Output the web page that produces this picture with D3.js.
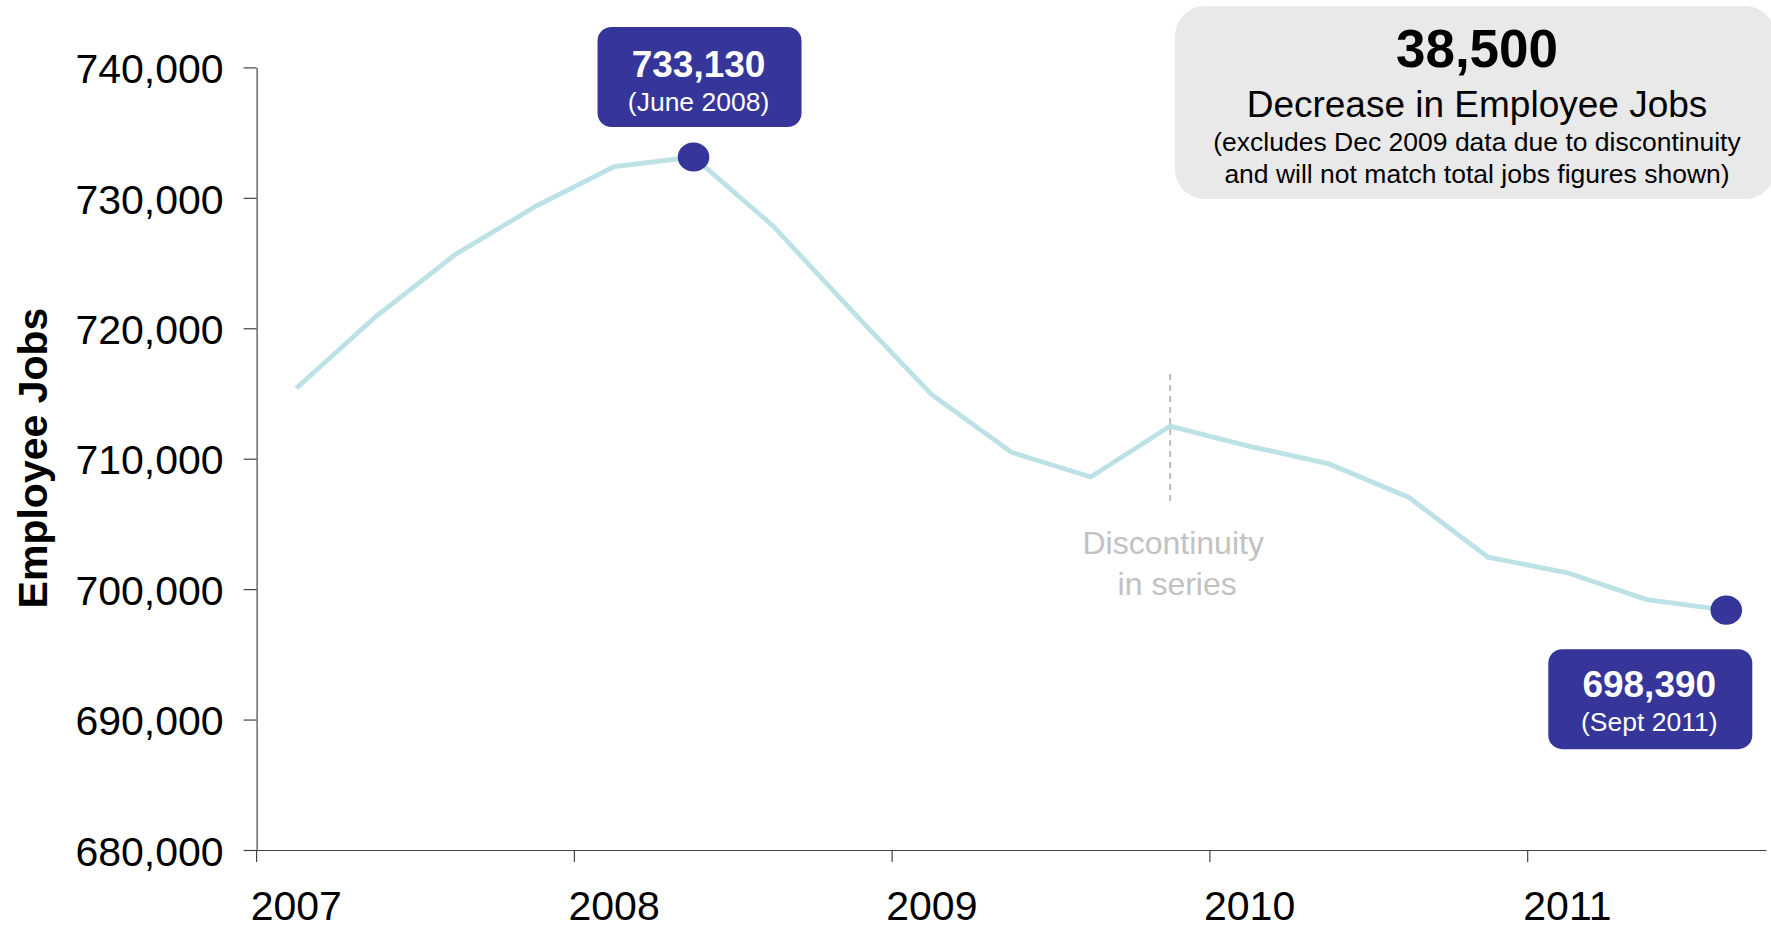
<!DOCTYPE html>
<html>
<head>
<meta charset="utf-8">
<script src="https://cdn.jsdelivr.net/npm/d3@7"></script>
<style>
  html, body { margin: 0; padding: 0; background: #fff; }
  svg { display: block; font-family: "Liberation Sans", Arial, Helvetica, sans-serif; }
</style>
</head>
<body>
<svg id="chart" width="1771" height="930"></svg>
<script>
// ---- Data ----
const quarters = ["Mar 2007","Jun 2007","Sep 2007","Dec 2007",
                  "Mar 2008","Jun 2008","Sep 2008","Dec 2008",
                  "Mar 2009","Jun 2009","Sep 2009","Dec 2009",
                  "Mar 2010","Jun 2010","Sep 2010","Dec 2010",
                  "Mar 2011","Jun 2011","Sep 2011"];
const jobs = [715400, 720900, 725650, 729300,
              732400, 733130, 727850, 721300,
              714900, 710500, 708600, 712500,
              710950, 709600, 707050, 702450,
              701250, 699200, 698390];
const yTicks = [680000, 690000, 700000, 710000, 720000, 730000, 740000];
const yearTicks = ["Mar 2007","Mar 2008","Mar 2009","Mar 2010","Mar 2011"];
const yearLabels = ["2007","2008","2009","2010","2011"];
const peakLabel = { q: "Jun 2008", value: "733,130", date: "(June 2008)" };
const endLabel = { q: "Sep 2011", value: "698,390", date: "(Sept 2011)" };
const discontinuityQ = "Dec 2009";
const summary = { big: "38,500", title: "Decrease in Employee Jobs",
  note1: "(excludes Dec 2009 data due to discontinuity",
  note2: "and will not match total jobs figures shown)" };
const yTitle = "Employee Jobs";

// ---- Setup ----
const svg = d3.select("#chart");
const x = d3.scaleBand().domain(quarters).range([256.6, 1766]).paddingInner(0).paddingOuter(0);
const y = d3.scaleLinear().domain([680000, 740000]).range([850, 67.4]);
const bw = x.bandwidth();
const cx = q => x(q) + bw / 2;
const fmt = d3.format(",");
const data = quarters.map((q, i) => ({ q, v: jobs[i] }));

// ---- Summary box ----
const sb = svg.append("g");
sb.append("rect").attr("x", 1175).attr("y", 6).attr("width", 600).attr("height", 193)
  .attr("rx", 30).attr("fill", "#e9e9e9");
sb.append("text").attr("x", 1477).attr("y", 67).attr("text-anchor", "middle")
  .attr("font-size", 53).attr("font-weight", "bold").attr("fill", "#000").text(summary.big);
sb.append("text").attr("x", 1477).attr("y", 117).attr("text-anchor", "middle")
  .attr("font-size", 37).attr("fill", "#000").text(summary.title);
sb.append("text").attr("x", 1477).attr("y", 151).attr("text-anchor", "middle")
  .attr("font-size", 26.5).attr("fill", "#000").text(summary.note1);
sb.append("text").attr("x", 1477).attr("y", 183).attr("text-anchor", "middle")
  .attr("font-size", 26.5).attr("fill", "#000").text(summary.note2);

// ---- Y axis ----
const yAxis = svg.append("g").attr("transform", `translate(${x.range()[0]},0)`)
  .call(d3.axisLeft(y).tickValues(yTicks).tickFormat(fmt).tickSizeInner(13).tickSizeOuter(0).tickPadding(20));
yAxis.selectAll("path, line").attr("stroke", "#444").attr("stroke-width", 1.2);
yAxis.selectAll("text").attr("font-size", 41).attr("fill", "#000").attr("dy", "0.37em")
  .attr("font-family", "Liberation Sans, Arial, sans-serif");

// ---- X axis ----
const xAxis = svg.append("g").attr("transform", `translate(0,${y.range()[0]})`)
  .call(d3.axisBottom(x).tickValues(yearTicks)
    .tickFormat((d, i) => yearLabels[i]).tickSizeInner(12).tickSizeOuter(0).tickPadding(29));
xAxis.select("path").attr("stroke", "#444").attr("stroke-width", 1.2);
xAxis.selectAll("line").attr("stroke", "#444").attr("stroke-width", 1.2).attr("x1", -bw / 2).attr("x2", -bw / 2);
xAxis.selectAll("text").attr("font-size", 41).attr("fill", "#000")
  .attr("font-family", "Liberation Sans, Arial, sans-serif");

// ---- Y title ----
svg.append("text").attr("transform", `translate(47,458) rotate(-90)`)
  .attr("text-anchor", "middle").attr("font-size", 41).attr("font-weight", "bold")
  .attr("fill", "#000").text(yTitle);

// ---- Discontinuity ----
const dx = cx(discontinuityQ);
svg.append("line").attr("x1", dx).attr("x2", dx).attr("y1", y(716500)).attr("y2", y(706500))
  .attr("stroke", "#b5b5b5").attr("stroke-width", 1.8).attr("stroke-dasharray", "6,5");
svg.append("text").attr("x", dx + 3).attr("y", 554).attr("text-anchor", "middle")
  .attr("font-size", 32).attr("fill", "#c2c2c2").text("Discontinuity");
svg.append("text").attr("x", dx + 7).attr("y", 595).attr("text-anchor", "middle")
  .attr("font-size", 32).attr("fill", "#c2c2c2").text("in series");

// ---- Line ----
const line = d3.line().x(d => cx(d.q)).y(d => y(d.v));
svg.append("path").datum(data).attr("d", line).attr("fill", "none")
  .attr("stroke", "#bce2e5").attr("stroke-width", 4.8).attr("stroke-linejoin", "miter");

// ---- Markers & labels ----
const navy = "#35359a";
function marker(q) {
  const d = data.find(e => e.q === q);
  svg.append("ellipse").attr("cx", cx(q)).attr("cy", y(d.v)).attr("rx", 15.8).attr("ry", 14.6).attr("fill", navy);
  return { px: cx(q), py: y(d.v) };
}
function labelBox(bx, by, lab, off) {
  const g = svg.append("g");
  g.append("rect").attr("x", bx).attr("y", by).attr("width", 204).attr("height", 100)
    .attr("rx", 14).attr("fill", navy);
  g.append("text").attr("x", bx + 101).attr("y", by + 48 + off).attr("text-anchor", "middle")
    .attr("font-size", 37).attr("font-weight", "bold").attr("fill", "#fff").text(lab.value);
  g.append("text").attr("x", bx + 101).attr("y", by + 82 + off).attr("text-anchor", "middle")
    .attr("font-size", 26.5).attr("fill", "#fff").text(lab.date);
}
const pk = marker(peakLabel.q);
labelBox(pk.px - 96, pk.py - 130, peakLabel, 2);
const en = marker(endLabel.q);
labelBox(en.px - 178, en.py + 39, endLabel, 0);
</script>
</body>
</html>
